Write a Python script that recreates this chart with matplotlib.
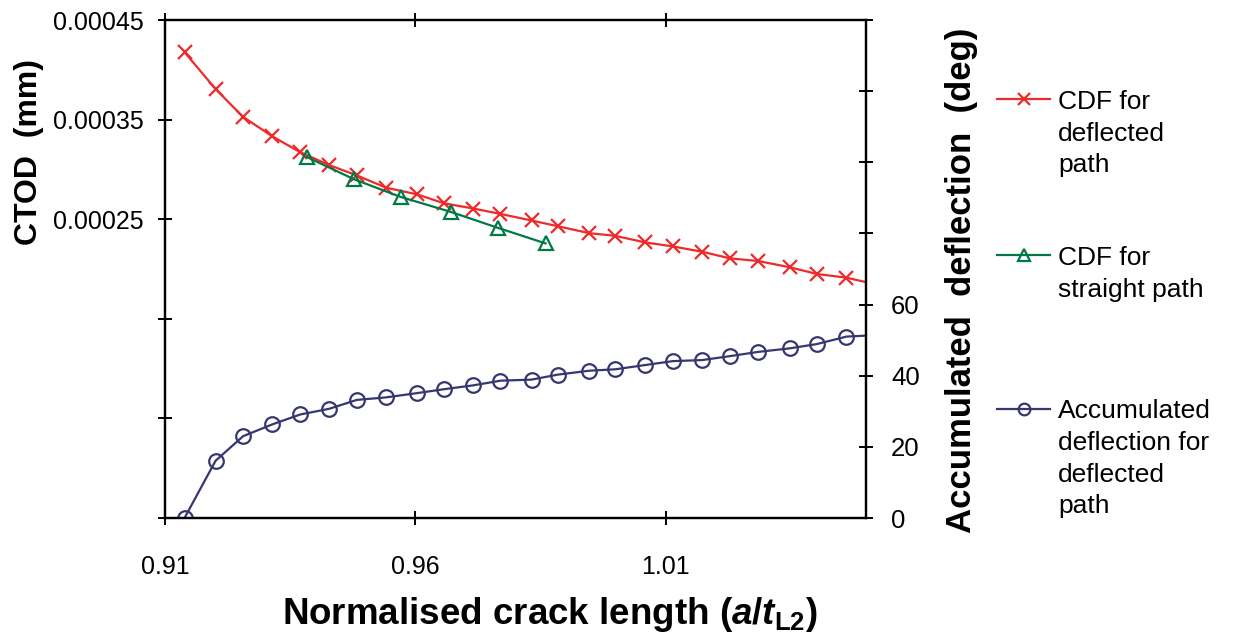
import matplotlib
matplotlib.use("Agg")
import matplotlib.pyplot as plt

plt.rcParams['font.family'] = ['Liberation Sans', 'DejaVu Sans']
plt.rcParams['mathtext.fontset'] = 'custom'
plt.rcParams['mathtext.rm'] = 'Liberation Sans:bold'
plt.rcParams['mathtext.it'] = 'Liberation Sans:bold:italic'
plt.rcParams['mathtext.bf'] = 'Liberation Sans:bold'

# normalised crack length a/tL2 (deflected path, shared by CTOD and deflection)
crack_len = [0.9139, 0.9201, 0.9256, 0.9314, 0.9370, 0.9428, 0.9483, 0.9541,
             0.9603, 0.9657, 0.9716, 0.9770, 0.9832, 0.9884, 0.9947, 0.9999,
             1.0059, 1.0114, 1.0173, 1.0228, 1.0285, 1.0348, 1.0402, 1.0461,
             1.0520]
ctod_deflected = [0.0004177, 0.0003807, 0.0003527, 0.0003333, 0.0003173,
                  0.0003043, 0.0002940, 0.0002817, 0.0002750, 0.0002660,
                  0.0002607, 0.0002553, 0.0002487, 0.0002430, 0.0002360,
                  0.0002333, 0.0002267, 0.0002227, 0.0002173, 0.0002107,
                  0.0002080, 0.0002017, 0.0001950, 0.0001913, 0.0001845]
deflection = [0.0, 16.1, 23.0, 26.3, 29.1, 30.7, 33.2, 33.9, 35.1, 36.2,
              37.3, 38.6, 38.9, 40.3, 41.4, 41.8, 43.0, 44.1, 44.4, 45.5,
              46.7, 47.7, 48.9, 51.0, 51.4]

# straight path
crack_len_straight = [0.9383, 0.9478, 0.9571, 0.9671, 0.9765, 0.9860]
ctod_straight = [0.0003125, 0.0002900, 0.0002723, 0.0002573, 0.0002413, 0.0002257]

left_ticks = [-0.00005, 0.00005, 0.00015, 0.00025, 0.00035, 0.00045]
left_labels = ['', '', '', '0.00025', '0.00035', '0.00045']
right_ticks = [0, 20, 40, 60, 80, 100, 120, 140]
right_labels = ['0', '20', '40', '60', '', '', '', '']
x_ticks = [0.91, 0.96, 1.01]

red = '#EE2A2A'
green = '#007A45'
navy = '#363670'

fig = plt.figure(figsize=(12.42, 6.39), dpi=100)
ax = fig.add_axes([165 / 1242, 1 - 518 / 639, 701 / 1242, 498 / 639])
ax2 = ax.twinx()

l1, = ax.plot(crack_len, ctod_deflected, color=red, lw=1.6, marker='x',
              ms=10, mew=1.6, label='CDF for\ndeflected\npath')
l2, = ax.plot(crack_len_straight, ctod_straight, color=green, lw=1.6,
              marker='^', ms=10, mew=1.6, mfc='none',
              label='CDF for\nstraight path')
l3, = ax2.plot(crack_len, deflection, color=navy, lw=1.6, marker='o',
               ms=10.5, mew=1.6, mfc='none',
               label='Accumulated\ndeflection for\ndeflected\npath')

ax.set_xlim(0.91, 1.05)
ax.set_ylim(-0.00005, 0.00045)
ax2.set_ylim(0, 140)

ax.set_xticks(x_ticks)
ax.set_xticklabels(['0.91', '0.96', '1.01'])
ax.set_yticks(left_ticks)
ax.set_yticklabels(left_labels)
ax2.set_yticks(right_ticks)
ax2.set_yticklabels(right_labels)

ax.tick_params(axis='both', direction='inout', length=10, width=1.4,
               labelsize=18, top=True)
ax.tick_params(axis='x', pad=21.5)
ax.tick_params(axis='y', pad=10.5)
ax2.tick_params(axis='y', direction='inout', length=10, width=1.4,
                labelsize=18.5, pad=13)
for a in (ax, ax2):
    for s in a.spines.values():
        s.set_linewidth(1.6)

ax.set_xlabel(r'Normalised crack length ($a$/$t_{\mathrm{L2}}$)',
              fontsize=26.5, fontweight='bold')
ax.xaxis.set_label_coords(0.549, -0.155)
ax.set_ylabel('CTOD  (mm)', fontsize=23, fontweight='bold')
ax.yaxis.set_label_coords(-0.172, 0.735)
ax2.set_ylabel('Accumulated  deflection  (deg)', fontsize=25, fontweight='bold')
ax2.yaxis.set_label_coords(1.112, 0.478)

# legend entries placed like the original (handle beside the first text line)
legend_tops = [0.859, 0.615, 0.375]
for line, top in zip([l1, l2, l3], legend_tops):
    leg = fig.legend(handles=[line], loc='upper left',
                     bbox_to_anchor=(0.803, top), frameon=False,
                     fontsize=19, handlelength=2.0, handletextpad=0.3,
                     borderaxespad=0, borderpad=0, markerscale=0.8)
    for t in leg.get_texts():
        t.set_linespacing(1.4)
    for col in leg._legend_handle_box.get_children():
        for hp in col.get_children():
            hp.align = 'top'

fig.savefig('out.png', dpi=100)
